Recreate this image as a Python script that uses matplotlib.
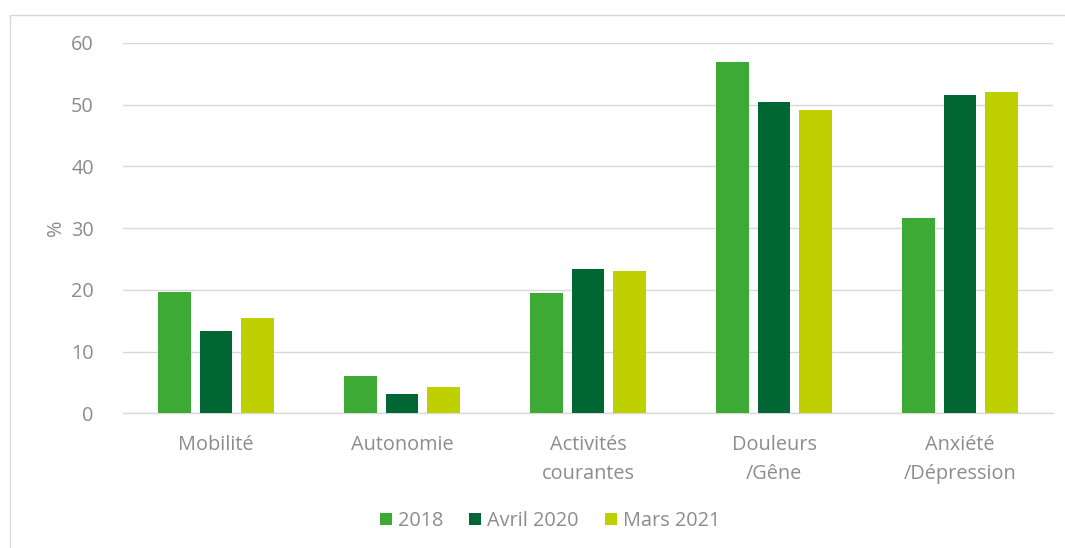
import matplotlib
matplotlib.use("Agg")
import matplotlib.pyplot as plt
import numpy as np
from matplotlib.patches import Rectangle

categories = ["Mobilité", "Autonomie", "Activités\ncourantes", "Douleurs\n/Gêne", "Anxiété\n/Dépression"]
series_names = ["2018", "Avril 2020", "Mars 2021"]
values_2018 = [19.7, 6.0, 19.5, 57.0, 31.7]
values_2020 = [13.4, 3.1, 23.4, 50.5, 51.6]
values_2021 = [15.5, 4.3, 23.0, 49.2, 52.0]
colors = ["#3DAA35", "#006633", "#BFD000"]
yticks = [0, 10, 20, 30, 40, 50, 60]

plt.rcParams["font.family"] = ["Open Sans", "DejaVu Sans"]
text_color = "#8C8C8C"
fs = 14.3

fig = plt.figure(figsize=(10.65, 5.48), dpi=100)
ax = fig.add_axes([123 / 1065, (548 - 413.3) / 548, 930 / 1065, 370.3 / 548])

# outer chart frame
fig.patches.append(Rectangle((10 / 1065, -0.01), 1.02, (548 - 15) / 548 + 0.01,
                             transform=fig.transFigure, fill=False,
                             edgecolor="#D9D9D9", linewidth=1.0))

x = np.arange(len(categories))
width = 0.175
step = 0.222
for i, (vals, name, col) in enumerate(zip([values_2018, values_2020, values_2021], series_names, colors)):
    ax.bar(x + (i - 1) * step, vals, width, color=col, label=name, zorder=3)

ax.set_xlim(-0.5, len(categories) - 0.5)
ax.set_ylim(0, 60)
ax.set_yticks(yticks)
ax.yaxis.grid(True, color="#D9D9D9", linewidth=1.0, zorder=0)
for s in ["top", "right", "left"]:
    ax.spines[s].set_visible(False)
ax.spines["bottom"].set_color("#D9D9D9")
ax.spines["bottom"].set_linewidth(1.0)
ax.tick_params(axis="both", length=0, colors=text_color, labelsize=fs)
ax.tick_params(axis="y", pad=21)
ax.tick_params(axis="x", pad=15.5)
ax.set_xticks(x)
ax.set_xticklabels(categories, linespacing=1.6)
ax.set_ylabel("%", color=text_color, fontsize=fs, labelpad=4)

leg = fig.legend(loc="center", bbox_to_anchor=(550 / 1065, (548 - 521) / 548), ncol=3,
                 frameon=False, fontsize=fs, handlelength=0.62, handleheight=0.62,
                 handletextpad=0.3, columnspacing=1.3)
for t in leg.get_texts():
    t.set_color(text_color)

fig.savefig("out.png", dpi=100, facecolor="white")
